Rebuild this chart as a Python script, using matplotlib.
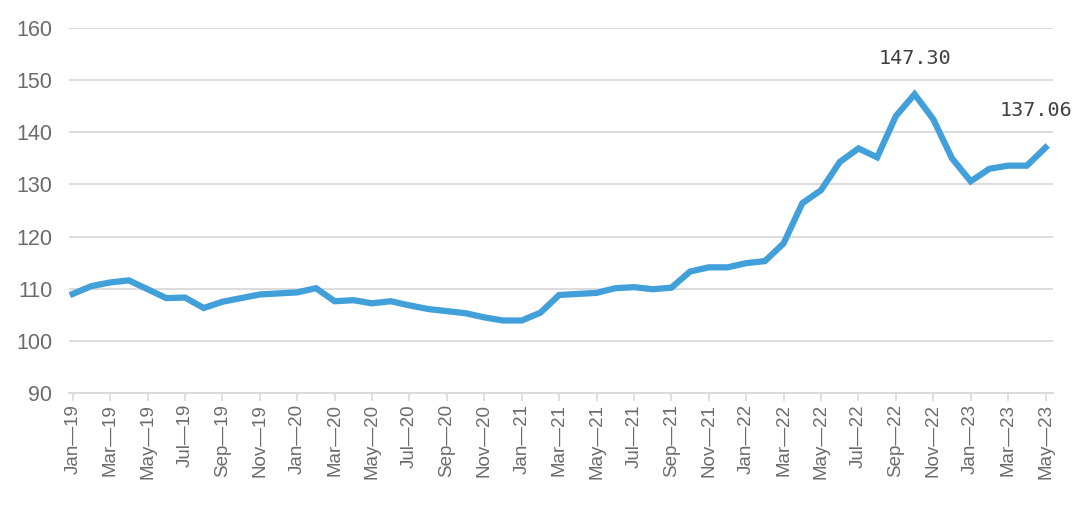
import numpy as np
import matplotlib.pyplot as plt

plt.rcParams['font.family'] = ['Liberation Sans', 'DejaVu Sans']

# monthly index, Jan-19 .. May-23
months = ["Jan", "Feb", "Mar", "Apr", "May", "Jun", "Jul", "Aug", "Sep", "Oct", "Nov", "Dec"]
labels = []
for yr in range(19, 24):
    for m in months:
        labels.append(m + "\u2014" + str(yr))
labels = labels[:53]

values = [109.0, 110.5, 111.2, 111.6, 109.9, 108.2, 108.3, 106.3, 107.5, 108.2,
          108.9, 109.1, 109.3, 110.1, 107.6, 107.8, 107.2, 107.6, 106.8, 106.1,
          105.7, 105.3, 104.5, 103.9, 103.9, 105.4, 108.8, 109.0, 109.2, 110.1,
          110.3, 109.9, 110.2, 113.3, 114.1, 114.1, 114.9, 115.3, 118.7, 126.4,
          128.9, 134.3, 136.9, 135.2, 143.1, 147.30, 142.5, 135.0, 130.6, 133.0,
          133.6, 133.6, 137.06]

x = np.arange(len(values))

fig = plt.figure(figsize=(10.8, 5.07), dpi=100)
ax = fig.add_axes([69/1080, 1 - 393/507, (1053-69)/1080, (393-28)/507])

ax.plot(x, values, color="#419FD9", lw=4.5, solid_joinstyle="miter", zorder=3)

ax.set_ylim(90, 160)
ax.set_yticks(np.arange(90, 161, 10))
ax.set_xlim(-0.2, 52.4)
ax.set_xticks(x[::2])
ax.set_xticklabels(labels[::2], rotation=90, fontsize=13.5, color="#6b6b6b")
ax.tick_params(axis="y", length=0, labelsize=15.5, labelcolor="#6b6b6b", pad=12)
ax.tick_params(axis="x", length=6, color="#d9d9d9", width=1.2, pad=2)

ax.grid(axis="y", color="#d9d9d9", lw=1.3)
ax.set_axisbelow(True)
for s in ["top", "right", "left"]:
    ax.spines[s].set_visible(False)
ax.spines["bottom"].set_color("#d9d9d9")
ax.spines["bottom"].set_linewidth(1.3)

ax.annotate("147.30", (45, values[45]), xytext=(0, 22), textcoords="offset points",
            ha="center", va="baseline", fontsize=14.5, color="#404040",
            family="DejaVu Sans Mono")
ax.annotate("137.06", (52, values[52]), xytext=(-6.5, 23), textcoords="offset points",
            ha="center", va="baseline", fontsize=14.5, color="#404040",
            family="DejaVu Sans Mono")

fig.savefig("out.png", dpi=100)
